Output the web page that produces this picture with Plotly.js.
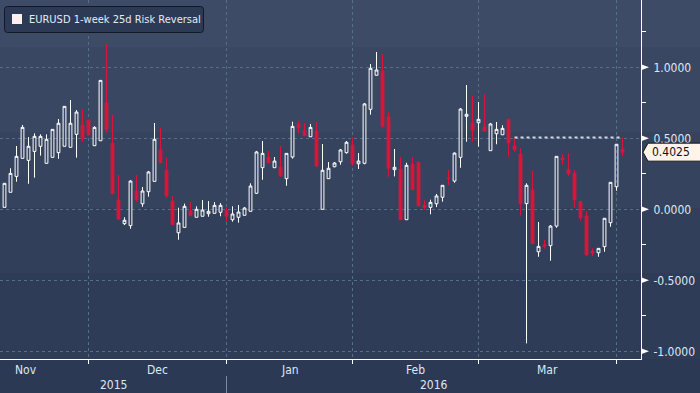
<!DOCTYPE html>
<html>
<head>
<meta charset="utf-8">
<script src="https://cdn.plot.ly/plotly-3.0.1.min.js"></script>
<style>
html,body{margin:0;padding:0;background:#2c3955;}
#chart{width:700px;height:393px;}
</style>
</head>
<body>
<div id="chart"></div>
<script>
// ---- data ----
const seriesName = "EURUSD 1-week 25d Risk Reversal";
const open = [0.014,0.120,0.232,0.359,0.345,0.408,0.444,0.324,0.366,0.399,
0.444,0.437,0.528,0.592,0.629,0.448,0.483,0.749,0.465,0.065,
-0.101,-0.115,0.129,0.039,0.124,0.197,0.418,0.275,0.058,-0.165,
-0.127,-0.012,-0.056,-0.049,-0.031,-0.028,-0.021,-0.007,-0.073,-0.056,
-0.042,-0.014,0.113,0.293,0.368,0.293,0.298,0.216,0.368,0.599,
0.551,0.511,0.551,0.000,0.216,0.300,0.335,0.399,0.453,0.321,
0.324,0.704,0.944,0.974,0.650,0.279,0.284,-0.073,0.317,0.331,
0.030,0.014,0.039,0.085,0.220,0.199,0.366,0.655,0.606,0.610,
0.580,0.413,0.532,0.525,0.634,0.446,0.389,0.040,0.136,-0.299,
-0.251,-0.256,-0.118,0.361,0.282,0.254,0.056,-0.047,-0.296,-0.306,
-0.263,-0.094,0.159,0.423];
const high = [0.183,0.289,0.446,0.594,0.509,0.535,0.528,0.528,0.563,0.636,
0.725,0.770,0.699,0.706,0.629,0.585,0.908,1.164,0.664,0.242,
-0.056,0.206,0.242,0.157,0.270,0.608,0.573,0.363,0.094,0.011,
0.040,0.051,0.021,0.065,0.058,0.051,0.044,0.011,0.021,0.030,
0.016,0.183,0.411,0.481,0.411,0.368,0.446,0.394,0.617,0.622,
0.608,0.601,0.615,0.460,0.333,0.333,0.425,0.481,0.507,0.396,
0.749,1.023,1.108,1.094,0.685,0.425,0.368,0.328,0.366,0.331,
0.063,0.068,0.108,0.169,0.277,0.401,0.713,0.875,0.798,0.756,
0.812,0.608,0.615,0.592,0.634,0.500,0.432,0.183,0.270,-0.089,
-0.216,-0.111,0.373,0.389,0.396,0.277,0.056,-0.012,-0.275,-0.275,
-0.063,0.190,0.458,0.507];
const low = [0.014,0.120,0.194,0.359,0.180,0.223,0.378,0.324,0.366,0.356,
0.444,0.437,0.364,0.476,0.523,0.448,0.483,0.540,0.110,-0.075,
-0.111,-0.137,0.054,0.018,0.089,0.197,0.328,0.082,-0.110,-0.214,
-0.127,-0.045,-0.056,-0.049,-0.052,-0.028,-0.049,-0.087,-0.087,-0.094,
-0.042,-0.014,0.108,0.208,0.328,0.293,0.228,0.166,0.357,0.535,
0.518,0.511,0.300,0.000,0.216,0.296,0.314,0.392,0.307,0.284,
0.317,0.666,0.944,0.575,0.230,0.232,-0.073,-0.073,0.138,0.025,
-0.003,-0.035,0.016,0.054,0.171,0.187,0.293,0.476,0.476,0.441,
0.547,0.413,0.458,0.525,0.371,0.406,-0.045,-0.944,-0.242,-0.334,
-0.277,-0.362,-0.130,0.314,0.235,0.011,-0.080,-0.327,-0.329,-0.334,
-0.299,-0.123,0.131,0.375];
const close = [0.183,0.253,0.373,0.577,0.444,0.514,0.514,0.493,0.563,0.606,
0.725,0.606,0.685,0.497,0.523,0.577,0.908,0.565,0.110,-0.068,
-0.077,0.199,0.068,0.129,0.263,0.493,0.328,0.096,-0.106,-0.096,
0.021,-0.045,0.000,-0.005,-0.014,0.028,0.028,-0.049,-0.033,-0.019,
0.009,0.164,0.404,0.394,0.328,0.340,0.235,0.394,0.584,0.575,
0.518,0.577,0.305,0.275,0.289,0.326,0.418,0.472,0.321,0.340,
0.742,0.993,0.981,0.585,0.289,0.296,-0.073,0.310,0.138,0.025,
0.011,0.049,0.094,0.169,0.216,0.396,0.706,0.669,0.561,0.634,
0.551,0.601,0.563,0.570,0.469,0.420,0.040,0.169,-0.242,-0.261,
-0.263,-0.118,0.373,0.349,0.251,0.068,-0.059,-0.320,-0.308,-0.275,
-0.063,0.190,0.458,0.4025];
// month labels and the trading-day index where each month starts
const monthLabels = ["Nov","Dec","Jan","Feb","Mar"];
const monthStarts = [-7,14,37,58,79,102];
const yearLabels = ["2015","2016"];
const yearStart = 37;           // index of 1 Jan 2016
const yTicks = [-1,-0.5,0,0.5,1];
const highLine = {fromIndex:85, level:0.505};

// ---- geometry helpers ----
const W=700,H=393,ML=0,MR=59,MT=0,MB=34;
const PW=W-ML-MR, PH=H-MT-MB;
const xRange=[-0.75,106.08], yRange=[-1.054,1.474];
const xp = px => (px-ML)/PW;
const yp = py => 1-(py-MT)/PH;
const yPix = v => MT + (yRange[1]-v)/(yRange[1]-yRange[0])*PH;

const idx = open.map((_,i)=>i);
const nLast = close.length-1;

const textCol = '#dfe8f2';
const gridCol = '#526f8b';
const redCol = '#dc143c';
const font = 'DejaVu Sans Condensed, DejaVu Sans, sans-serif';

const shapes = [];
// background bands
const bands = [[0,47,'#3d4b67'],[47,132,'#394763'],[132,208,'#35435f'],[208,273,'#323f5b'],[273,359,'#2f3c58'],[359,393,'#2c3955']];
bands.forEach(b=>shapes.push({type:'rect',xref:'paper',yref:'paper',x0:xp(0),x1:xp(W),y0:yp(b[0]),y1:yp(b[1]),fillcolor:b[2],line:{width:0},layer:'below'}));

function rrect(x0,y0,x1,y1,r){
  const P=(x,y)=>xp(x)+','+yp(y);
  return 'M'+P(x0+r,y0)+' L'+P(x1-r,y0)+' Q'+P(x1,y0)+' '+P(x1,y0+r)+' L'+P(x1,y1-r)+' Q'+P(x1,y1)+' '+P(x1-r,y1)+
         ' L'+P(x0+r,y1)+' Q'+P(x0,y1)+' '+P(x0,y1-r)+' L'+P(x0,y0+r)+' Q'+P(x0,y0)+' '+P(x0+r,y0)+' Z';
}
// legend box
shapes.push({type:'path',xref:'paper',yref:'paper',path:rrect(4.5,6.5,203.5,32.5,3),fillcolor:'#2d3a55',line:{color:'#121826',width:1},layer:'above'});
shapes.push({type:'rect',xref:'paper',yref:'paper',x0:xp(12),x1:xp(22),y0:yp(14),y1:yp(24),fillcolor:'#fdf0ec',line:{width:0},layer:'above'});
// year separator
shapes.push({type:'line',xref:'x',yref:'paper',x0:yearStart,x1:yearStart,y0:yp(376),y1:yp(H),line:{color:'#7d889c',width:1}});
// right-axis tick flags
yTicks.forEach(v=>{
  const py=yPix(v);
  shapes.push({type:'path',xref:'paper',yref:'paper',
    path:'M'+xp(641)+','+yp(py-3)+' L'+xp(649)+','+yp(py)+' L'+xp(641)+','+yp(py+3)+' Z',
    fillcolor:'#ffffff',line:{width:0},layer:'above'});
});
// last value tag
const lv = close[nLast];
const lp = yPix(lv);
shapes.push({type:'path',xref:'paper',yref:'paper',
  path:'M'+xp(643)+','+yp(lp)+' L'+xp(648)+','+yp(lp-9)+' L'+xp(703)+','+yp(lp-9)+' L'+xp(703)+','+yp(lp+9)+' L'+xp(648)+','+yp(lp+9)+' Z',
  fillcolor:'#fff3ea',line:{color:'#1a1a1a',width:1},layer:'above'});

const annotations = [];
annotations.push({xref:'paper',yref:'paper',x:xp(27),y:yp(19.5),xanchor:'left',yanchor:'middle',showarrow:false,
  text:seriesName,font:{family:font,size:11,color:'#e6ecf4'}});
monthLabels.forEach((m,i)=>{
  annotations.push({xref:'x',yref:'paper',x:(monthStarts[i]+monthStarts[i+1])/2,y:yp(369.5),xanchor:'center',yanchor:'middle',
    showarrow:false,text:m,font:{family:font,size:12,color:textCol}});
});
const yearCenters = [(xRange[0]+yearStart)/2,(yearStart+xRange[1])/2];
yearLabels.forEach((t,i)=>{
  annotations.push({xref:'x',yref:'paper',x:yearCenters[i],y:yp(385),xanchor:'center',yanchor:'middle',
    showarrow:false,text:t,font:{family:font,size:12,color:textCol}});
});
annotations.push({xref:'paper',yref:'paper',x:xp(650),y:yp(lp),xanchor:'left',yanchor:'middle',showarrow:false,
  text:lv.toFixed(4),font:{family:font,size:12,color:'#111111'}});

const traces = [
  {type:'candlestick',x:idx,open:open,high:high,low:low,close:close,
   increasing:{line:{color:'#ffffff',width:1},fillcolor:'rgba(0,0,0,0)'},
   decreasing:{line:{color:redCol,width:1},fillcolor:redCol},
   whiskerwidth:0,hoverinfo:'skip',showlegend:false},
  {type:'scatter',mode:'lines',x:[highLine.fromIndex,nLast],y:[highLine.level,highLine.level],
   line:{color:'rgba(228,232,240,0.9)',width:2,dash:'dot'},hoverinfo:'skip',showlegend:false}
];

const layout = {
  width:W,height:H,margin:{l:ML,r:MR,t:MT,b:MB,pad:0},
  paper_bgcolor:'#2c3955',plot_bgcolor:'rgba(0,0,0,0)',
  showlegend:false,boxgap:1/3,
  font:{family:font,size:12,color:textCol},
  xaxis:{range:xRange,tickmode:'array',tickvals:monthStarts.slice(1),ticktext:monthStarts.slice(1).map(()=>''),
    ticks:'outside',ticklen:4,tickcolor:'#ffffff',showgrid:true,gridcolor:gridCol,griddash:'dot',gridwidth:1,
    showline:true,linecolor:'#ffffff',linewidth:1,zeroline:false,rangeslider:{visible:false},fixedrange:true},
  yaxis:{range:yRange,side:'right',tickmode:'array',tickvals:yTicks,ticktext:yTicks.map(v=>v.toFixed(4)),
    ticks:'outside',ticklen:9,tickcolor:'rgba(0,0,0,0)',
    minor:{tickmode:'linear',tick0:0,dtick:0.25,ticks:'outside',ticklen:4,tickcolor:'#ffffff',showgrid:false},
    showgrid:true,gridcolor:gridCol,griddash:'dot',gridwidth:1,
    showline:true,linecolor:'#ffffff',linewidth:1,zeroline:false,fixedrange:true,
    tickfont:{family:font,size:12,color:textCol}},
  shapes:shapes,annotations:annotations
};
Plotly.newPlot('chart',traces,layout,{staticPlot:true,displayModeBar:false});
</script>
</body>
</html>
